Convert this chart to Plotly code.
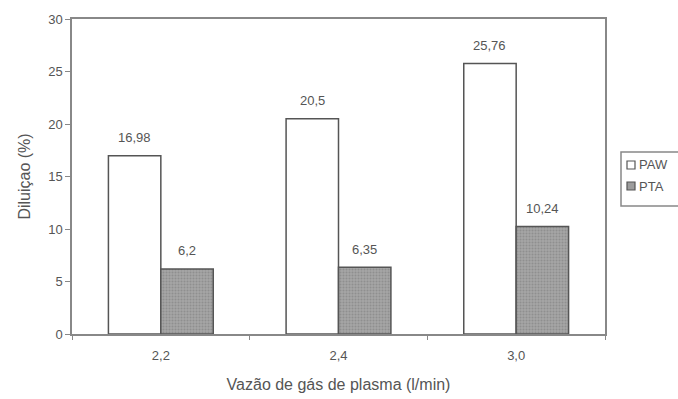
import plotly.graph_objects as go

categories = ["2,2", "2,4", "3,0"]
paw = [16.98, 20.5, 25.76]
pta = [6.2, 6.35, 10.24]
y_ticks = [0, 5, 10, 15, 20, 25, 30]


def fmt(v):
    return str(v).replace(".", ",")


FONT = "Liberation Sans, Arial, sans-serif"
TEXT = "#555555"
EDGE = "#555555"
PTA_FILL = "#9c9c9c"

W, H = 678, 399
M_L, M_R, M_T, M_B = 72, 73, 19, 65
BARGAP = 0.41
plot_w = W - M_L - M_R
bar_w = plot_w / len(categories) * (1 - BARGAP) / 2

fig = go.Figure()
fig.add_trace(go.Bar(
    name="PAW", x=categories, y=paw,
    marker=dict(color="white", line=dict(color=EDGE, width=1.5)),
))
fig.add_trace(go.Bar(
    name="PTA", x=categories, y=pta,
    marker=dict(color=PTA_FILL, line=dict(color=EDGE, width=1.5),
                pattern=dict(shape=".", fgcolor="#777777", bgcolor="#a6a6a6",
                             size=3, solidity=0.4)),
))

# value labels above each bar
for series, sign in ((paw, -1), (pta, 1)):
    for cat, v in zip(categories, series):
        fig.add_annotation(
            x=cat, y=v, xref="x", yref="y", text=fmt(v), showarrow=False,
            xshift=sign * bar_w / 2, yshift=18, yanchor="middle",
            font=dict(size=13, color=TEXT, family=FONT),
        )

# legend box drawn at the right edge
lx0 = (621 - M_L) / plot_w
lx1 = (700 - M_L) / plot_w
ly0 = 1 - (206 - M_T) / (H - M_T - M_B)
ly1 = 1 - (152 - M_T) / (H - M_T - M_B)
fig.add_shape(type="rect", xref="paper", yref="paper", x0=lx0, x1=lx1,
              y0=ly0, y1=ly1, line=dict(color="#888888", width=1.5),
              fillcolor="white")
for name, fill, cy in (("PAW", "white", 165), ("PTA", PTA_FILL, 186)):
    sx0 = (627 - M_L) / plot_w
    sx1 = (635 - M_L) / plot_w
    sy0 = 1 - (cy + 4 - M_T) / (H - M_T - M_B)
    sy1 = 1 - (cy - 4 - M_T) / (H - M_T - M_B)
    fig.add_shape(type="rect", xref="paper", yref="paper", x0=sx0, x1=sx1,
                  y0=sy0, y1=sy1, line=dict(color=EDGE, width=1.2),
                  fillcolor=fill)
    fig.add_annotation(x=(637 - M_L) / plot_w, y=(sy0 + sy1) / 2,
                       xref="paper", yref="paper", text=name,
                       showarrow=False, xanchor="left", yanchor="middle",
                       font=dict(size=13, color=TEXT, family=FONT))

fig.update_layout(
    width=W, height=H,
    margin=dict(l=M_L, r=M_R, t=M_T, b=M_B, autoexpand=False),
    paper_bgcolor="white", plot_bgcolor="white",
    barmode="group", bargap=BARGAP, bargroupgap=0,
    font=dict(family=FONT, color=TEXT, size=13),
    showlegend=False,
    xaxis=dict(
        showline=True, linecolor="#888888", linewidth=1.5, mirror=True,
        ticks="outside", tickson="boundaries", ticklen=4, tickcolor="#888888",
        tickfont=dict(size=13, color=TEXT), ticklabelstandoff=9,
        title=dict(text="Vazão de gás de plasma (l/min)", standoff=16,
                   font=dict(size=16, color=TEXT)),
    ),
    yaxis=dict(
        range=[0, 30], tickvals=y_ticks,
        showline=True, linecolor="#888888", linewidth=1.5, mirror=True,
        ticks="outside", ticklen=5, tickcolor="#888888",
        showgrid=False, zeroline=False,
        tickfont=dict(size=13, color=TEXT),
        title=dict(text="Diluiçao (%)", standoff=14,
                   font=dict(size=16, color=TEXT)),
    ),
)

fig.write_html("out.html")
